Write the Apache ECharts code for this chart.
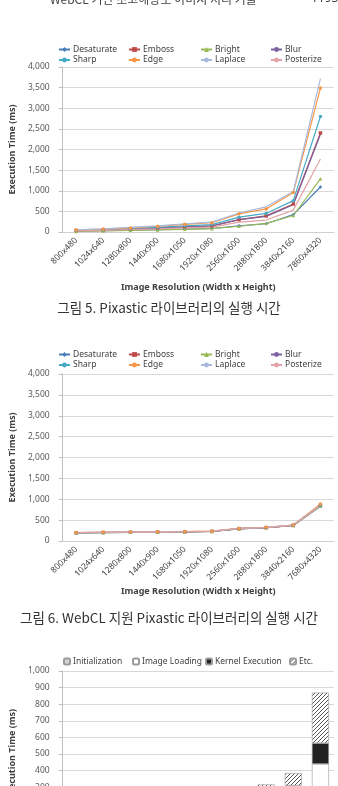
<!DOCTYPE html>
<html><head><meta charset="utf-8">
<script src="https://cdn.jsdelivr.net/npm/echarts@6/dist/echarts.min.js"></script>
<style>html,body{margin:0;padding:0;background:#fff;overflow:hidden}#wrap{width:338px;height:786px;overflow:hidden}#c{width:338px;height:880px}</style>
</head><body><div id="wrap"><div id="c"></div></div>
<script>
// ---------- data ----------
const categories1 = ['800x480','1024x640','1280x800','1440x900','1680x1050','1920x1080','2560x1600','2880x1800','3840x2160','7860x4320'];
const categories2 = ['800x480','1024x640','1280x800','1440x900','1680x1050','1920x1080','2560x1600','2880x1800','3840x2160','7680x4320'];
const seriesNames = ['Desaturate','Emboss','Bright','Blur','Sharp','Edge','Laplace','Posterize'];

// Fig.5 Pixastic (ms)
const desaturate1 = [20, 30, 45, 55, 70, 85, 150, 200, 420, 1090];
const emboss1     = [35, 50, 75, 95, 125, 150, 300, 390, 680, 2400];
const bright1     = [15, 25, 40, 50, 65, 80, 140, 210, 400, 1290];
const blur1       = [35, 50, 70, 95, 120, 145, 300, 380, 660, 2370];
const sharp1      = [40, 60, 85, 115, 150, 180, 360, 450, 760, 2800];
const edge1       = [50, 70, 100, 140, 185, 225, 440, 560, 960, 3490];
const laplace1    = [55, 75, 110, 150, 200, 240, 460, 610, 980, 3720];
const posterize1  = [25, 40, 60, 75, 100, 120, 240, 290, 530, 1770];

// Fig.6 WebCL Pixastic (ms)
const desaturate2 = [195, 200, 205, 212, 218, 228, 290, 318, 372, 830];
const emboss2     = [198, 203, 209, 215, 221, 231, 295, 320, 375, 850];
const bright2     = [196, 201, 207, 213, 219, 229, 292, 318, 373, 840];
const blur2       = [199, 204, 210, 216, 222, 232, 296, 322, 376, 855];
const sharp2      = [200, 205, 211, 217, 223, 233, 297, 323, 377, 860];
const edge2       = [203, 208, 214, 220, 226, 236, 302, 328, 382, 885];
const laplace2    = [201, 206, 212, 218, 224, 234, 299, 325, 379, 865];
const posterize2  = [202, 207, 213, 219, 225, 235, 300, 326, 380, 850];

// Fig.7 breakdown (ms)
const stackNames = ['Initialization','Image Loading','Kernel Execution','Etc.'];
const initTime   = [170, 170, 175, 175, 175, 180, 185, 185, 190, 190];
const loadTime   = [15, 18, 20, 22, 25, 28, 55, 65, 90, 250];
const kernelTime = [5, 6, 8, 10, 12, 14, 20, 25, 30, 125];
const etcTime    = [15, 15, 15, 15, 15, 15, 40, 42, 75, 305];

// ---------- style ----------
const colors = ['#4a7ebb','#be4b48','#98b954','#7d60a0','#46aac5','#f79646','#a9b9dc','#e3a2a6'];
const symbols = ['diamond','rect','triangle','none','circle','circle','none','none'];
const FONT = 'Noto Sans';
const fig1 = [desaturate1, emboss1, bright1, blur1, sharp1, edge1, laplace1, posterize1];
const fig2 = [desaturate2, emboss2, bright2, blur2, sharp2, edge2, laplace2, posterize2];

function pattern(kind){
  const c = document.createElement('canvas');
  c.width = 4; c.height = 4;
  const g = c.getContext('2d');
  g.fillStyle = '#fff'; g.fillRect(0,0,4,4);
  if (kind === 'hatch'){
    g.strokeStyle = '#555'; g.lineWidth = 1;
    g.beginPath(); g.moveTo(-1,5); g.lineTo(5,-1); g.stroke();
    g.beginPath(); g.moveTo(3,5); g.lineTo(5,3); g.stroke();
    g.beginPath(); g.moveTo(-1,1); g.lineTo(1,-1); g.stroke();
  } else {
    g.fillStyle = '#c8c8c8'; g.fillRect(0,0,2,2); g.fillRect(2,2,2,2);
    g.fillStyle = '#e4e4e4'; g.fillRect(2,0,2,2); g.fillRect(0,2,2,2);
  }
  return {image: c, repeat: 'repeat'};
}

const grids = [
  {left: 50, top: 67, width: 284, height: 165},
  {left: 50, top: 374, width: 284, height: 167},
  {left: 50, top: 671, width: 284, height: 169}
];

function xAxis(i, cats, gap){
  return {
    type: 'category', gridIndex: i, data: cats, boundaryGap: true,
    axisLine: {show: true, lineStyle: {color: '#d0d0d0'}},
    axisTick: {show: false},
    axisLabel: {rotate: 45, fontSize: 8.5, color: '#404040', margin: 7, fontFamily: FONT, interval: 0},
    name: i < 2 ? 'Image Resolution (Width x Height)' : '',
    nameLocation: 'middle', nameGap: gap,
    nameTextStyle: {fontSize: 9, fontWeight: 'bold', color: '#404040', fontFamily: FONT}
  };
}
function yAxis(i, max, interval){
  return {
    type: 'value', gridIndex: i, min: 0, max: max, interval: interval,
    axisLine: {show: true, lineStyle: {color: '#bfbfbf'}},
    axisTick: {show: true, length: 4, lineStyle: {color: '#bfbfbf'}},
    splitLine: {lineStyle: {color: '#d9d9d9'}},
    axisLabel: {fontSize: 8.5, color: '#595959', margin: 13, fontFamily: FONT,
      formatter: v => v.toLocaleString('en-US')},
    name: 'Execution Time (ms)', nameLocation: 'middle', nameGap: 37, nameRotate: 90,
    nameTextStyle: {fontSize: 9, fontWeight: 'bold', color: '#404040', fontFamily: FONT}
  };
}

const series = [];
[fig1, fig2].forEach((fig, gi) => {
  fig.forEach((vals, k) => {
    series.push({
      name: seriesNames[k], type: 'line', xAxisIndex: gi, yAxisIndex: gi,
      data: vals, symbol: symbols[k], symbolSize: 3.5, showSymbol: true,
      lineStyle: {width: 1.2, color: colors[k]}, itemStyle: {color: colors[k]},
      z: 2
    });
  });
});
const stackData = [initTime, loadTime, kernelTime, etcTime];
const stackFill = [pattern('dots'), '#ffffff', '#222222', pattern('hatch')];
stackData.forEach((vals, k) => {
  series.push({
    name: stackNames[k], type: 'bar', stack: 'tot', xAxisIndex: 2, yAxisIndex: 2,
    data: vals, barWidth: 17,
    itemStyle: {color: stackFill[k], borderColor: '#9a9a9a', borderWidth: 0.6}
  });
});

const legends = [];
const colX = [58, 128, 200, 270];
[45, 350].forEach(top => {
  for (let c = 0; c < 4; c++){
    legends.push({
      orient: 'vertical', left: colX[c], top: top, itemGap: 1.5,
      itemWidth: 11, itemHeight: 6, padding: 0,
      data: [seriesNames[c], seriesNames[c+4]],
      textStyle: {fontSize: 8.5, color: '#404040', fontFamily: FONT, padding: [0,0,0,-2]}
    });
  }
});
const legX3 = [63, 132, 205, 289];
stackNames.forEach((n, k) => {
  legends.push({
    left: legX3[k], top: 657, itemWidth: 6, itemHeight: 6, padding: 0,
    data: [n],
    textStyle: {fontSize: 8.5, color: '#404040', fontFamily: FONT, padding: [0,0,0,-2]}
  });
});

const chart = echarts.init(document.getElementById('c'), null, {renderer: 'canvas'});
chart.setOption({
  animation: false,
  backgroundColor: '#ffffff',
  grid: grids,
  xAxis: [xAxis(0, categories1, 51), xAxis(1, categories2, 46), xAxis(2, categories2, 55)],
  yAxis: [yAxis(0, 4000, 500), yAxis(1, 4000, 500), yAxis(2, 1000, 100)],
  legend: legends,
  series: series,
  graphic: [
    {type: 'text', left: 50, top: -7, style: {text: 'WebCL 기반 초고해상도 이미지 처리 기술', fontSize: 12, fill: '#444', fontFamily: 'Noto Sans CJK KR'}},
    {type: 'text', left: 311, top: -7, style: {text: '1193', fontSize: 12, fill: '#444', fontFamily: 'Noto Sans'}},
    {type: 'text', left: 'center', top: 301, style: {text: '그림 5. Pixastic 라이브러리의 실행 시간', fontSize: 13.5, fill: '#333', fontFamily: 'Noto Sans CJK KR'}},
    {type: 'text', left: 'center', top: 611, style: {text: '그림 6. WebCL 지원 Pixastic 라이브러리의 실행 시간', fontSize: 13.5, fill: '#333', fontFamily: 'Noto Sans CJK KR'}}
  ]
});
</script></body></html>
